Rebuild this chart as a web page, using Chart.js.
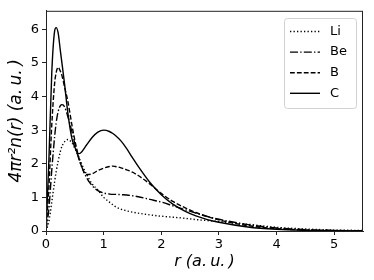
<!DOCTYPE html>
<html>
<head>
<meta charset="utf-8">
<script src="https://cdn.jsdelivr.net/npm/chart.js@4"></script>
<style>
  html, body { margin: 0; padding: 0; background: #fff; }
  #wrap { width: 374px; height: 280px; }
</style>
</head>
<body>
<div id="wrap"><canvas id="chart"></canvas></div>
<script>
// radius grid (a.u.)
const rValues = [0, 0.05, 0.1, 0.15, 0.175, 0.21, 0.25, 0.28, 0.32, 0.38, 0.45, 0.5, 0.56, 0.6, 0.7, 0.8, 0.9, 1.0, 1.1, 1.16, 1.2, 1.3, 1.4, 1.5, 1.6, 1.8, 2.0, 2.2, 2.4, 2.6, 2.8, 3.0, 3.5, 4.0, 4.5, 5.0, 5.5];

const liValues = [0, 0.28, 0.86, 1.47, 1.75, 2.07, 2.37, 2.53, 2.65, 2.72, 2.62, 2.46, 2.23, 2.07, 1.7, 1.4, 1.22, 1.0, 0.86, 0.78, 0.73, 0.65, 0.6, 0.56, 0.53, 0.48, 0.44, 0.41, 0.38, 0.34, 0.31, 0.28, 0.2, 0.11, 0.06, 0.03, 0.015];
const beValues = [0, 0.66, 1.81, 2.81, 3.2, 3.55, 3.73, 3.76, 3.7, 3.4, 2.95, 2.6, 2.2, 2.0, 1.6, 1.35, 1.2, 1.13, 1.1, 1.09, 1.09, 1.08, 1.07, 1.05, 1.02, 0.94, 0.86, 0.75, 0.64, 0.53, 0.43, 0.35, 0.19, 0.09, 0.04, 0.016, 0.006];
const bValues = [0, 1.3, 3.15, 4.4, 4.7, 4.87, 4.75, 4.6, 4.3, 3.85, 3.15, 2.7, 2.25, 2.0, 1.68, 1.7, 1.8, 1.87, 1.92, 1.93, 1.92, 1.88, 1.82, 1.75, 1.65, 1.4, 1.12, 0.88, 0.7, 0.55, 0.43, 0.33, 0.16, 0.07, 0.03, 0.012, 0.005];
const cValues = [0, 2.1, 4.7, 5.95, 6.05, 5.9, 5.35, 4.95, 4.4, 3.5, 2.75, 2.5, 2.3, 2.32, 2.55, 2.78, 2.94, 3.0, 2.96, 2.9, 2.85, 2.68, 2.45, 2.18, 1.92, 1.45, 1.08, 0.8, 0.6, 0.45, 0.34, 0.26, 0.12, 0.05, 0.02, 0.008, 0.003];

const seriesNames = ['Li', 'Be', 'B', 'C'];
const xTicks = [0, 1, 2, 3, 4, 5];
const yTicks = [0, 1, 2, 3, 4, 5, 6];

const lineStyles = [
  { dash: [1.3, 2.2] },
  { dash: [8, 2.2, 1.4, 2.2] },
  { dash: [4.8, 2.1] },
  { dash: [] }
];

function points(vals) {
  return rValues.map((r, i) => ({ x: r, y: vals[i] }));
}

const allValues = [liValues, beValues, bValues, cValues];
const datasets = allValues.map((vals, i) => ({
  label: seriesNames[i],
  data: points(vals),
  borderColor: '#000',
  borderWidth: 1.4,
  borderDash: lineStyles[i].dash,
  pointRadius: 0,
  cubicInterpolationMode: 'monotone',
  fill: false
}));

// box around plot + legend inside upper right corner
const framePlugin = {
  id: 'frame',
  afterDraw(chart) {
    const { ctx, chartArea: a } = chart;
    ctx.save();
    ctx.strokeStyle = '#222';
    ctx.lineWidth = 1;
    ctx.strokeRect(a.left + 0.5, a.top + 0.5, a.right - a.left - 1, a.bottom - a.top);

    // legend
    const bx = 284, by = 18, bw = 72, bh = 90;
    ctx.fillStyle = 'rgba(255,255,255,0.85)';
    ctx.strokeStyle = '#d0d0d0';
    ctx.beginPath();
    ctx.roundRect(bx + 0.5, by + 0.5, bw, bh, 3);
    ctx.fill();
    ctx.stroke();

    ctx.font = '13px "DejaVu Sans"';
    ctx.textBaseline = 'middle';
    ctx.textAlign = 'left';
    seriesNames.forEach((name, i) => {
      const y = 31.5 + i * 20.6;
      ctx.strokeStyle = '#000';
      ctx.lineWidth = 1.4;
      ctx.setLineDash(lineStyles[i].dash);
      ctx.beginPath();
      ctx.moveTo(290, y);
      ctx.lineTo(320, y);
      ctx.stroke();
      ctx.setLineDash([]);
      ctx.fillStyle = '#000';
      ctx.fillText(name, 330, y);
    });
    ctx.restore();
  }
};

new Chart(document.getElementById('chart'), {
  type: 'line',
  data: { datasets: datasets },
  options: {
    responsive: true,
    maintainAspectRatio: false,
    animation: false,
    layout: { padding: { top: 10, right: 11, left: 0, bottom: 0 } },
    plugins: { legend: { display: false }, tooltip: { enabled: false } },
    scales: {
      x: {
        type: 'linear',
        min: 0,
        max: 5.5,
        afterBuildTicks(scale) { scale.ticks = xTicks.map(v => ({ value: v })); },
        afterFit(scale) { scale.height = 49; },
        grid: { drawOnChartArea: false, tickLength: 4, color: '#222' },
        border: { color: '#222' },
        ticks: { color: '#000', font: { family: 'DejaVu Sans', size: 13 }, padding: 2, maxRotation: 0 },
        title: { display: true, text: 'r (a.\u2009u.\u2009)', color: '#000', font: { family: 'DejaVu Sans', size: 16, style: 'italic' }, padding: { top: 0, bottom: 9 } }
      },
      y: {
        type: 'linear',
        min: 0,
        max: 6.55,
        afterBuildTicks(scale) { scale.ticks = yTicks.map(v => ({ value: v })); },
        afterFit(scale) { scale.width = 46; },
        grid: { drawOnChartArea: false, tickLength: 4, color: '#222' },
        border: { color: '#222' },
        ticks: { color: '#000', font: { family: 'DejaVu Sans', size: 13 }, padding: 3 },
        title: { display: true, text: '4πr²n(r) (a.\u2009u.\u2009)', color: '#000', font: { family: 'DejaVu Sans', size: 17, style: 'italic' }, padding: { top: 6, bottom: 0 } }
      }
    }
  },
  plugins: [framePlugin]
});
</script>
</body>
</html>
